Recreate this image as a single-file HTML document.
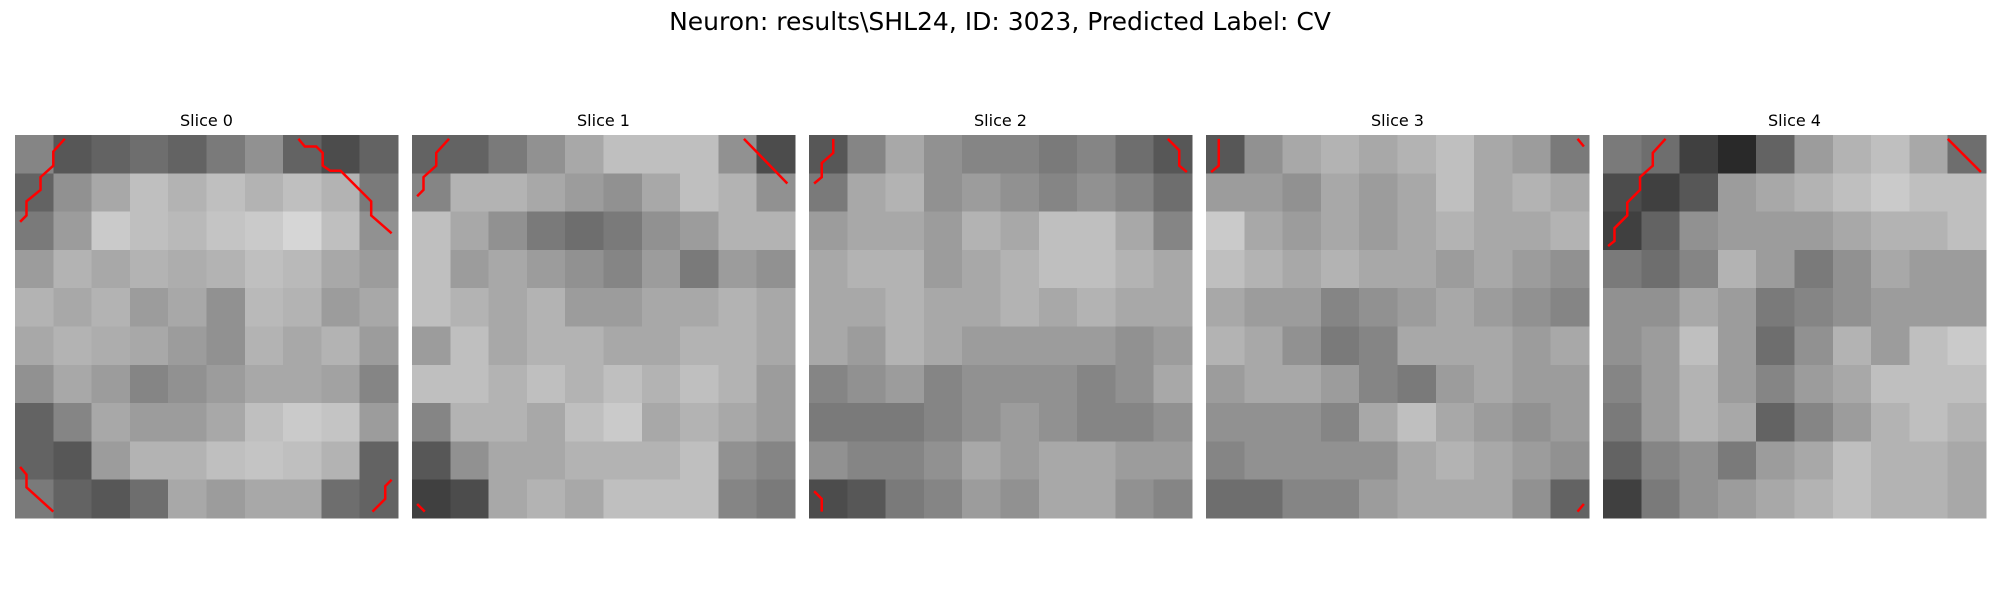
<!DOCTYPE html>
<html><head><meta charset="utf-8"><style>
html,body{margin:0;padding:0;background:#fff;width:2000px;height:600px;overflow:hidden}
svg{display:block;font-family:"DejaVu Sans","Liberation Sans",sans-serif}
</style></head><body>
<svg id="fig" width="2000" height="600" viewBox="0 0 2000 600" shape-rendering="crispEdges">
<text x="1000" y="30" font-size="25" text-anchor="middle" fill="#000">Neuron: results\SHL24, ID: 3023, Predicted Label: CV</text>
</svg>
<script>
const sliceTitles = ["Slice 0","Slice 1","Slice 2","Slice 3","Slice 4"];
const slice0 = [
[120,80,90,100,90,110,130,90,70,90],
[90,130,150,170,160,170,160,170,160,110],
[110,140,180,170,165,175,180,190,170,130],
[140,160,150,160,155,160,170,165,150,140],
[160,150,160,140,150,130,165,160,140,150],
[150,160,155,150,140,130,160,150,160,140],
[130,150,140,120,130,140,150,150,145,120],
[90,120,150,140,140,150,170,180,175,140],
[90,80,140,160,160,170,175,170,160,90],
[110,90,80,100,150,140,150,150,100,90]];
const slice1 = [
[90,90,110,130,150,170,170,170,130,70],
[120,160,160,150,140,130,150,170,160,130],
[170,150,130,110,100,110,130,140,160,160],
[170,140,150,140,130,120,140,110,140,130],
[170,160,150,160,140,140,150,150,160,150],
[140,170,150,160,160,150,150,160,160,150],
[170,170,160,170,160,170,160,170,160,140],
[120,160,160,150,170,180,150,160,150,140],
[80,130,150,150,160,160,160,170,130,120],
[60,70,150,160,150,170,170,170,120,110]];
const slice2 = [
[80,120,150,130,120,120,110,120,100,80],
[110,150,160,130,140,130,120,130,120,100],
[140,150,150,140,160,150,170,170,150,120],
[150,160,160,140,150,160,170,170,160,150],
[150,150,160,150,150,160,150,160,150,150],
[150,140,160,150,140,140,140,140,130,140],
[120,130,140,120,130,130,130,120,130,150],
[110,110,110,120,130,140,130,120,120,130],
[130,120,120,130,150,140,150,150,140,140],
[70,80,110,120,140,130,150,150,130,120]];
const slice3 = [
[80,130,150,160,150,160,170,150,140,110],
[140,140,130,150,140,150,170,150,160,150],
[180,150,140,150,140,150,160,150,150,160],
[170,160,150,160,150,150,140,150,140,130],
[150,140,140,120,130,140,150,140,130,120],
[160,150,130,110,120,150,150,150,140,150],
[140,150,150,140,120,110,140,150,140,140],
[130,130,130,120,150,170,150,140,130,140],
[120,130,130,130,130,150,160,150,140,130],
[100,100,120,120,140,150,150,150,130,90]];
const slice4 = [
[110,100,60,40,90,140,160,170,150,100],
[70,60,80,140,150,160,170,180,170,170],
[60,90,130,140,140,140,150,160,160,170],
[110,100,120,160,140,110,130,150,140,140],
[130,130,150,140,110,120,130,140,140,140],
[130,140,170,140,100,130,160,140,170,180],
[120,140,160,140,120,140,150,170,170,170],
[110,140,160,150,90,120,140,160,170,160],
[90,120,130,110,140,150,170,160,160,150],
[60,110,130,140,150,160,170,160,160,150]];
const slices = [slice0, slice1, slice2, slice3, slice4];
const contours0 = [
[[3.9,0.3],[3.0,1.3],[3.0,2.4],[2.0,3.3],[2.0,4.3],[0.9,5.2],[0.9,6.3],[0.4,6.8]],
[[22.2,0.3],[22.7,0.9],[23.6,0.9],[24.1,1.4],[24.1,2.4],[24.7,2.8],[25.5,2.8],[27.9,5.2],[27.9,6.3],[29.5,7.7]],
[[0.4,26],[0.9,26.6],[0.9,27.6],[3.0,29.5]],
[[29.5,27],[29,27.5],[29,28.5],[28,29.5]]];
const contours1 = [
[[2.9,0.3],[1.9,1.4],[1.9,2.4],[0.9,3.3],[0.9,4.3],[0.4,4.8]],
[[26,0.3],[29.4,3.8]],
[[0.4,28.9],[1.0,29.5]]];
const contours2 = [
[[1.9,0.3],[1.9,1.4],[1.0,2.2],[1.0,3.3],[0.4,3.8]],
[[28.1,0.3],[29,1.2],[29,2.4],[29.6,2.9]],
[[0.4,27.9],[1,28.5],[1,29.5]]];
const contours3 = [
[[1,0.3],[1,2.4],[0.4,2.9]],
[[29.1,0.3],[29.6,0.9]],
[[29.6,28.9],[29.1,29.5]]];
const contours4 = [
[[4.9,0.3],[3.9,1.4],[3.9,2.4],[2.9,3.3],[2.9,4.3],[1.9,5.3],[1.9,6.3],[0.9,7.3],[0.9,8.3],[0.4,8.7]],
[[27,0.3],[29.6,2.9]]];
const contours = [contours0, contours1, contours2, contours3, contours4];

const NS = "http://www.w3.org/2000/svg";
const svg = document.getElementById("fig");
const panelLeft0 = 15, panelStep = 397, panelTop = 135, panelSize = 383, gridCells = 30;
const vmin = 4, vmax = 226;
const colorOf = v => { const g = Math.round(Math.max(0, Math.min(255, (v - vmin) / (vmax - vmin) * 255))); return `rgb(${g},${g},${g})`; };
slices.forEach((grid, i) => {
  const g = document.createElementNS(NS, "g");
  
  
  svg.appendChild(g);
  const x0 = panelLeft0 + i * panelStep;
  const xs = c => x0 + c / gridCells * panelSize;
  const ys = r => panelTop + r / gridCells * panelSize;
  const t = document.createElementNS(NS, "text");
  
  
  t.setAttribute("x", x0 + panelSize / 2);
  t.setAttribute("y", 126);
  t.setAttribute("font-size", "16");
  t.setAttribute("text-anchor", "middle");
  t.textContent = sliceTitles[i];
  g.appendChild(t);
  const rows = grid.length, cols = grid[0].length;
  grid.forEach((row, r) => row.forEach((v, c) => {
    const rc = document.createElementNS(NS, "rect");
    
    
    const xa = xs(c * gridCells / cols), xb = xs((c + 1) * gridCells / cols);
    const ya = ys(r * gridCells / rows), yb = ys((r + 1) * gridCells / rows);
    rc.setAttribute("x", xa); rc.setAttribute("y", ya);
    rc.setAttribute("width", xb - xa + 0.5); rc.setAttribute("height", yb - ya + 0.5);
    rc.setAttribute("fill", colorOf(v));
    g.appendChild(rc);
  }));
  contours[i].forEach(line => {
    const p = document.createElementNS(NS, "polyline");
    
    
    p.setAttribute("points", line.map(q => xs(q[0]) + "," + ys(q[1])).join(" "));
    p.setAttribute("fill", "none");
    p.setAttribute("stroke", "#ff0000");
    p.setAttribute("stroke-width", "2.5");
    p.setAttribute("shape-rendering", "auto");
    g.appendChild(p);
  });
});
</script>
</body></html>
